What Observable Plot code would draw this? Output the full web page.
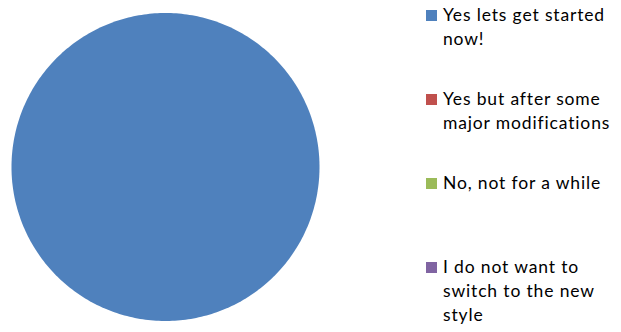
<!DOCTYPE html>
<html><head><meta charset="utf-8">
<script src="https://cdn.jsdelivr.net/npm/d3@7"></script>
<script src="https://cdn.jsdelivr.net/npm/@observablehq/plot@0.6"></script>
<style>
body{margin:0;background:#fff;}
#wrap{position:relative;width:621px;height:332px;overflow:hidden;}
#legend{position:absolute;left:426px;top:0;font-family:Lato,"Liberation Sans",sans-serif;font-size:17.5px;line-height:24px;letter-spacing:0.85px;color:#000;}
.item{position:absolute;left:0;display:flex;align-items:flex-start;width:195px;}
.sw{width:11px;height:11px;margin-top:7px;margin-right:6px;flex:none;}
.lbl{width:174px;}
</style>
</head><body>
<div id="wrap"><div id="chart"></div><div id="legend"></div></div>
<script>
const categories = ["Yes lets get started now!", "Yes but after some major modifications", "No, not for a while", "I do not want to switch to the new style"];
const values = [100, 0, 0, 0];
const colors = ["#4F81BD", "#C0504D", "#9BBB59", "#8064A2"];

const table = categories.map((c, i) => ({category: c, value: values[i]}));
const arcs = d3.pie().sort(null).value(d => d.value)(table);
const pts = [];
for (const a of arcs) {
  if (a.endAngle - a.startAngle <= 0) continue;
  const full = a.endAngle - a.startAngle >= 2 * Math.PI - 1e-9;
  const n = Math.max(2, Math.ceil((a.endAngle - a.startAngle) / (Math.PI / 180)));
  if (!full) pts.push({category: a.data.category, x: 0, y: 0});
  for (let k = 0; k <= n; k++) {
    const t = a.startAngle + (a.endAngle - a.startAngle) * k / n;
    pts.push({category: a.data.category, x: Math.sin(t), y: Math.cos(t)});
  }
}

const chart = Plot.plot({
  width: 621,
  height: 332,
  margin: 0,
  x: {domain: [-1, 1], range: [11, 319], axis: null},
  y: {domain: [-1, 1], range: [320.5, 12.5], axis: null},
  color: {domain: categories, range: colors},
  marks: [
    Plot.line(pts, {x: "x", y: "y", z: "category", fill: "category", stroke: null, curve: "linear-closed"})
  ]
});
document.getElementById("chart").appendChild(chart);

const color = chart.scale("color");
const legend = document.getElementById("legend");
categories.forEach((c, i) => {
  const item = document.createElement("div");
  item.className = "item";
  item.style.top = (2.5 + i * 84.3) + "px";
  const sw = document.createElement("div");
  sw.className = "sw";
  sw.style.background = color.apply(c);
  const lbl = document.createElement("div");
  lbl.className = "lbl";
  lbl.textContent = c;
  item.appendChild(sw);
  item.appendChild(lbl);
  legend.appendChild(item);
});
</script>
</body></html>
